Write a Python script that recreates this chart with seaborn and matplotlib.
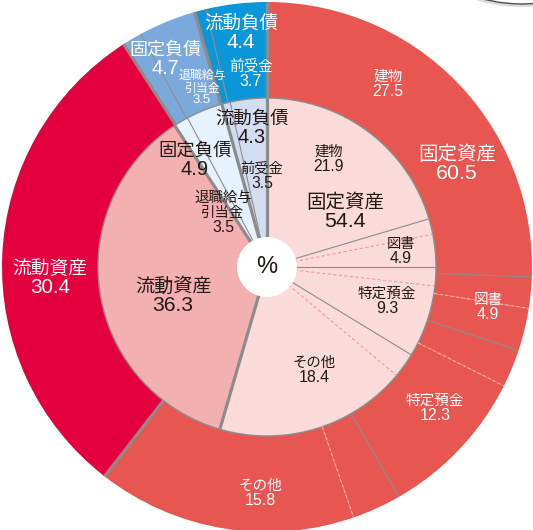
import matplotlib
matplotlib.use('Agg')
import matplotlib.pyplot as plt
import matplotlib.patches as mpatches
import numpy as np
import seaborn as sns

# 大区分（外側の輪・内側の輪）
groups = ['固定資産', '流動資産', '固定負債', '流動負債']
outer_totals = [60.5, 30.4, 4.7, 4.4]
inner_totals = [54.4, 36.3, 4.9, 4.3]

# 小区分（時計回り、12時から）
items = ['建物', '図書', '特定預金', 'その他', '流動資産',
         '固定負債その他', '退職給与\n引当金', '流動負債その他', '前受金']
item_group = [0, 0, 0, 0, 1, 2, 2, 3, 3]
outer_values = [27.5, 4.9, 12.3, 15.8, 30.4, 1.2, 3.5, 0.7, 3.7]
inner_values = [21.9, 4.9, 9.3, 18.4, 36.3, 1.4, 3.5, 0.8, 3.5]

# 図中の細い実線の区切り（%位置）
outer_extra_lines = [25.6, 30.1, 41.7]
inner_extra_lines = [20.4, 25.0, 33.7]

outer_colors = ['#e85651', '#e4003f', '#7ba9dc', '#0a96d8']
inner_colors = ['#fadbd9', '#f3b0b0', '#e6f3fc', '#d3ddf1']
grey = '#8c8c8c'
dark = '#231815'

W, H = 533, 530
cx, cy = 267, H - 267
R_out, R_in, R_hole = 265, 169, 30

sns.set_theme(style='white')
plt.rcParams['font.family'] = ['Noto Sans CJK JP', 'DejaVu Sans']
num_font = ['Liberation Sans', 'DejaVu Sans']

fig = plt.figure(figsize=(W / 100, H / 100), dpi=100)
ax = fig.add_axes([0, 0, 1, 1])

ax.pie(outer_values, colors=[outer_colors[g] for g in item_group],
       radius=R_out, center=(cx, cy), startangle=90, counterclock=False,
       wedgeprops=dict(width=R_out - R_in, linewidth=0))
ax.pie(inner_values, colors=[inner_colors[g] for g in item_group],
       radius=R_in, center=(cx, cy), startangle=90, counterclock=False,
       wedgeprops=dict(width=R_in, linewidth=0))


def ang(p):
    return np.deg2rad(90 - 3.6 * p)


def radial(p, r0, r1, **kw):
    a = ang(p)
    ax.plot([cx + r0 * np.cos(a), cx + r1 * np.cos(a)],
            [cy + r0 * np.sin(a), cy + r1 * np.sin(a)],
            solid_capstyle='butt', **kw)


def ring_lines(values, extra, r0, r1, dash_color):
    for p in extra:
        radial(p, r0, r1, color=grey, lw=0.8)
    cum = np.cumsum(values)
    for i in range(len(values) - 1):
        p = cum[i]
        if item_group[i] != item_group[i + 1]:
            continue
        if item_group[i] == 0:
            radial(p, r0, r1, color=dash_color, lw=0.8, ls=(0, (3, 2)))
        else:
            radial(p, r0, r1, color=grey, lw=0.8)


ring_lines(outer_values, outer_extra_lines, R_in, R_out, '#f6b3ae')
ring_lines(inner_values, inner_extra_lines, 0, R_in, '#f09a9a')

ax.add_patch(mpatches.Circle((cx, cy), R_in, fill=False, ec=grey, lw=1.0))

# 大区分の境界（太い灰色線）
for values in (outer_values, inner_values):
    r0, r1 = (R_in, R_out) if values is outer_values else (0, R_in)
    cum = np.concatenate([[0], np.cumsum(values)])
    for i in range(len(values)):
        if i == 0 or item_group[i] != item_group[i - 1]:
            radial(cum[i], r0, r1, color=grey, lw=2.3)

ax.add_patch(mpatches.Circle((cx, cy), R_hole, fc='white', ec='none', zorder=5))
ax.text(cx, cy, '%', ha='center', va='center', fontsize=17, color=dark,
        family=num_font, zorder=6)

# 右上の別の円の縁
ax.add_patch(mpatches.Circle((522, H + 150), 155, fill=False, ec='#dddddd', lw=3))
ax.add_patch(mpatches.Circle((522, H + 151), 155, fill=False, ec='#555555', lw=1.0))


def put(x, y, name, value, size, color):
    lines = name.split('\n') + ['{:.1f}'.format(value)]
    gap = size * 1.42
    y0 = y - gap * (len(lines) - 1) / 2
    for k, s in enumerate(lines):
        last = k == len(lines) - 1
        ax.text(x, H - (y0 + k * gap), s, ha='center', va='center',
                fontsize=size * 1.1 if last else size, color=color,
                family=num_font if last else None, zorder=7)


# ラベル配置（画面座標）
outer_item_pos = {0: (388, 84, 10.5), 1: (488, 307, 10.5), 2: (435, 408, 10.5),
                  3: (260, 493, 10.5), 6: (202, 88, 8.6), 8: (251, 74, 10.5)}
outer_group_pos = {0: (457, 164, 14), 1: (50, 278, 13.5), 2: (165, 59, 13),
                   3: (241, 33, 13.3)}
inner_item_pos = {0: (329, 159, 10.3), 1: (401, 251, 10.3), 2: (387, 301, 10.5),
                  3: (314, 370, 10.4), 6: (223, 213, 10.4), 8: (262, 176, 10.3)}
inner_group_pos = {0: (345, 212, 14), 1: (173, 296, 13.8), 2: (195, 160, 13.2),
                   3: (252, 128, 13.2)}

for i, (x, y, s) in outer_item_pos.items():
    put(x, y, items[i], outer_values[i], s, 'white')
for g, (x, y, s) in outer_group_pos.items():
    put(x, y, groups[g], outer_totals[g], s, 'white')
for i, (x, y, s) in inner_item_pos.items():
    put(x, y, items[i], inner_values[i], s, dark)
for g, (x, y, s) in inner_group_pos.items():
    put(x, y, groups[g], inner_totals[g], s, dark)

ax.set_xlim(0, W)
ax.set_ylim(0, H)
ax.set_aspect('equal')
ax.axis('off')

fig.savefig('out.png', dpi=100)
